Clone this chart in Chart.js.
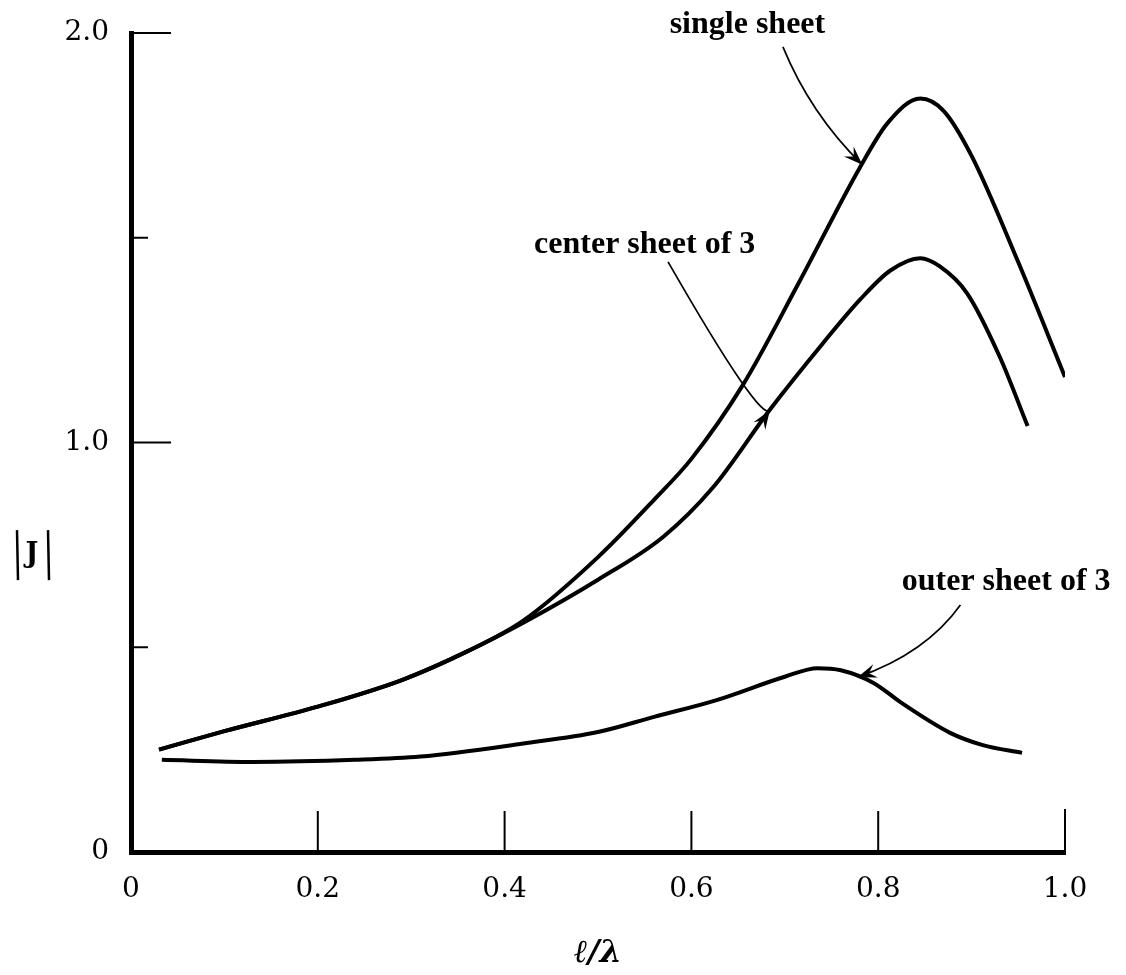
<!DOCTYPE html>
<html>
<head>
<meta charset="utf-8">
<title>|J| against l/lambda</title>
<script src="https://cdn.jsdelivr.net/npm/chart.js@4.4.1/dist/chart.umd.min.js"></script>
<style>
  html, body { margin: 0; padding: 0; background: #fff; }
  #wrap { width: 1126px; height: 975px; position: relative; }
</style>
</head>
<body>
<div id="wrap"><canvas id="sheetChart"></canvas></div>
<script>
// sample points along l/lambda and |J| for each sheet
const single_x = [0.03, 0.1, 0.2, 0.29, 0.36, 0.42, 0.5, 0.56, 0.6, 0.655, 0.715, 0.78, 0.81, 0.845, 0.87, 0.9, 0.95, 1.0];
const single_y = [0.25, 0.295, 0.355, 0.42, 0.49, 0.565, 0.72, 0.86, 0.96, 1.14, 1.39, 1.67, 1.78, 1.84, 1.81, 1.70, 1.44, 1.16];

const center_x = [0.03, 0.1, 0.2, 0.29, 0.36, 0.42, 0.5, 0.57, 0.623, 0.684, 0.74, 0.781, 0.813, 0.845, 0.866, 0.895, 0.93, 0.96];
const center_y = [0.25, 0.295, 0.355, 0.42, 0.49, 0.56, 0.665, 0.77, 0.89, 1.08, 1.24, 1.35, 1.42, 1.45, 1.43, 1.365, 1.21, 1.04];

const outer_x = [0.033, 0.13, 0.24, 0.31, 0.42, 0.5, 0.56, 0.627, 0.7, 0.735, 0.76, 0.795, 0.825, 0.877, 0.912, 0.954];
const outer_y = [0.225, 0.22, 0.225, 0.233, 0.265, 0.293, 0.33, 0.371, 0.428, 0.449, 0.444, 0.413, 0.364, 0.291, 0.261, 0.242];

const x_ticks = [0, 0.2, 0.4, 0.6, 0.8, 1.0];
const x_labels = ['0', '0.2', '0.4', '0.6', '0.8', '1.0'];
const y_ticks = [0, 0.5, 1.0, 1.5, 2.0];
const y_labels = ['0', '', '1.0', '', '2.0'];

// curve labels and their pointer arrows (data units)
const note_text = ['single sheet', 'center sheet of 3', 'outer sheet of 3'];
const note_at = [[0.66, 2.02], [0.55, 1.482], [0.937, 0.659]];
const arrow_from = [[0.698, 1.966], [0.575, 1.441], [0.888, 0.603]];
const arrow_via = [[0.734, 1.812], [0.652, 1.153], [0.842, 0.5]];
const arrow_to = [[0.783, 1.678], [0.684, 1.079], [0.778, 0.427]];
const y_title_at = 0.725;

const toPoints = (xs, ys) => xs.map((v, i) => ({x: v, y: ys[i]}));

const curve = (label, xs, ys) => ({
    label: label,
    data: toPoints(xs, ys),
    showLine: true,
    borderColor: '#000',
    borderWidth: 4,
    pointRadius: 0,
    cubicInterpolationMode: 'monotone',
    fill: false
});

const sketch = {
    id: 'sketch',
    afterDraw(chart) {
        const {ctx, scales: {x, y}} = chart;
        ctx.save();
        ctx.strokeStyle = '#000';
        ctx.fillStyle = '#000';

        // inward tick marks
        ctx.lineWidth = 2;
        y_ticks.forEach((v, i) => {
            if (v === 0) return;
            const len = y_labels[i] ? 40 : 17;
            const py = y.getPixelForValue(v);
            ctx.beginPath();
            ctx.moveTo(x.left, py);
            ctx.lineTo(x.left + len, py);
            ctx.stroke();
        });
        x_ticks.forEach(v => {
            if (v === 0) return;
            const px = x.getPixelForValue(v);
            ctx.beginPath();
            ctx.moveTo(px, y.bottom);
            ctx.lineTo(px, y.bottom - (v === 1 ? 43 : 41));
            ctx.stroke();
        });

        // curve names
        ctx.font = 'bold 32px "Liberation Serif"';
        ctx.textAlign = 'center';
        ctx.textBaseline = 'middle';
        note_text.forEach((t, i) => {
            ctx.fillText(t, x.getPixelForValue(note_at[i][0]), y.getPixelForValue(note_at[i][1]));
        });

        // pointer arrows
        ctx.lineWidth = 1.7;
        note_text.forEach((t, i) => {
            const x0 = x.getPixelForValue(arrow_from[i][0]), y0 = y.getPixelForValue(arrow_from[i][1]);
            const xm = x.getPixelForValue(arrow_via[i][0]), ym = y.getPixelForValue(arrow_via[i][1]);
            const x1 = x.getPixelForValue(arrow_to[i][0]), y1 = y.getPixelForValue(arrow_to[i][1]);
            const cx = 2 * xm - (x0 + x1) / 2, cy = 2 * ym - (y0 + y1) / 2;
            ctx.beginPath();
            ctx.moveTo(x0, y0);
            ctx.quadraticCurveTo(cx, cy, x1, y1);
            ctx.stroke();
            const a = Math.atan2(y1 - cy, x1 - cx);
            const c = Math.cos(a), s = Math.sin(a);
            ctx.beginPath();
            ctx.moveTo(x1, y1);
            ctx.lineTo(x1 - 19 * c + 7 * s, y1 - 19 * s - 7 * c);
            ctx.lineTo(x1 - 12 * c, y1 - 12 * s);
            ctx.lineTo(x1 - 19 * c - 7 * s, y1 - 19 * s + 7 * c);
            ctx.closePath();
            ctx.fill();
        });

        // |J| axis name, upright
        const ty = y.getPixelForValue(y_title_at);
        const tx = x.left - 99;
        ctx.font = 'bold 27px "DejaVu Serif"';
        ctx.fillText('J', tx, ty);
        ctx.lineWidth = 2.5;
        ctx.beginPath();
        ctx.moveTo(tx - 15, ty - 25);
        ctx.lineTo(tx - 14, ty + 25);
        ctx.moveTo(tx + 16, ty - 25);
        ctx.lineTo(tx + 17, ty + 25);
        ctx.stroke();

        ctx.restore();
    }
};

const tickFont = { family: '"DejaVu Serif"', size: 28 };

new Chart('sheetChart', {
    type: 'scatter',
    data: {
        datasets: [
            curve('single sheet', single_x, single_y),
            curve('center sheet of 3', center_x, center_y),
            curve('outer sheet of 3', outer_x, outer_y)
        ]
    },
    options: {
        responsive: true,
        maintainAspectRatio: false,
        animation: false,
        layout: { padding: { left: 0, right: 61, top: 33, bottom: 0 } },
        plugins: {
            legend: { display: false },
            tooltip: { enabled: false }
        },
        scales: {
            x: {
                type: 'linear',
                min: 0,
                max: 1,
                afterBuildTicks: s => { s.ticks = x_ticks.map(v => ({value: v})); },
                afterFit: s => { s.height = 123; s.paddingLeft = 0; s.paddingRight = 0; },
                grid: { display: false, drawTicks: false },
                border: { display: true, color: '#000', width: 5 },
                ticks: {
                    color: '#000',
                    padding: 21,
                    maxRotation: 0,
                    font: tickFont,
                    callback: (v, i) => x_labels[i]
                },
                title: {
                    display: true,
                    text: 'ℓ/λ',
                    color: '#000',
                    font: { family: '"DejaVu Serif"', size: 32, weight: 'bold', style: 'italic' },
                    padding: { top: 0, bottom: 2 }
                }
            },
            y: {
                type: 'linear',
                min: 0,
                max: 2,
                afterBuildTicks: s => { s.ticks = y_ticks.map(v => ({value: v})); },
                afterFit: s => { s.width = 131; s.paddingTop = 0; s.paddingBottom = 0; },
                grid: { display: false, drawTicks: false },
                border: { display: true, color: '#000', width: 5 },
                ticks: {
                    color: '#000',
                    padding: 22,
                    font: tickFont,
                    callback: (v, i) => y_labels[i]
                }
            }
        }
    },
    plugins: [sketch]
});
</script>
</body>
</html>
